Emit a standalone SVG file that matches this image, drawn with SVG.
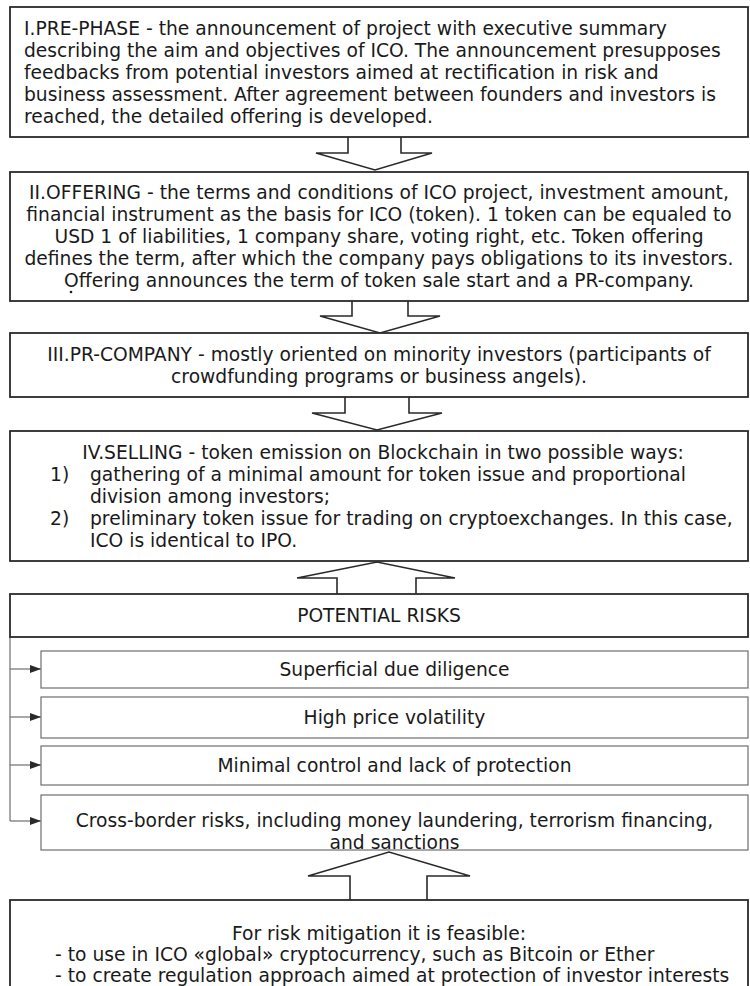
<svg xmlns="http://www.w3.org/2000/svg" width="750" height="986" viewBox="0 0 750 986">
<style>
  .box { fill: #fff; stroke: #2a2a2a; stroke-width: 1.8; }
  .sub { fill: #fff; stroke: #6e6e6e; stroke-width: 1.2; }
  .t { font-family: "DejaVu Sans", Verdana, sans-serif; font-size: 18.7px; fill: #1a1a1a; }
  .c { text-anchor: middle; }
  .blk { fill: #fff; stroke: #2a2a2a; stroke-width: 1.6; stroke-linejoin: miter; }
  .ln { fill: none; stroke: #6e6e6e; stroke-width: 1.2; }
</style>
<defs>
  <marker id="ah" viewBox="0 0 11 8" refX="11" refY="4" markerWidth="11" markerHeight="8" markerUnits="userSpaceOnUse" orient="auto">
    <path d="M0,0 L11,4 L0,8 Z" fill="#2a2a2a"/>
  </marker>
</defs>
<rect width="750" height="986" fill="#fff"/>

<g id="connectors">
  <path class="blk" d="M348,137 V153 H316 L375,170 L432,153 H401 V137"/>
  <path class="blk" d="M352,301 V316 H320 L380,333 L440,316 H408 V301"/>
  <path class="blk" d="M345,397 V413 H312 L377,430 L442,413 H409 V397"/>
  <path class="blk" d="M337,594 V578 H297 L377,562 L455,578 H416 V594"/>
  <path class="blk" d="M350,900 V876 H308 L389,852 L470,876 H427 V900"/>
  <path class="ln" d="M10,637 V821"/>
  <path class="ln" d="M10,669 H41" marker-end="url(#ah)"/>
  <path class="ln" d="M10,717 H41" marker-end="url(#ah)"/>
  <path class="ln" d="M10,765 H41" marker-end="url(#ah)"/>
  <path class="ln" d="M10,821 H41" marker-end="url(#ah)"/>
</g>

<g id="prephase">
  <rect class="box" x="10" y="7" width="738" height="130"/>
  <text class="t" x="24" y="35">I.PRE-PHASE - the announcement of project with executive summary</text>
  <text class="t" x="24" y="57">describing the aim and objectives of ICO. The announcement presupposes</text>
  <text class="t" x="24" y="79">feedbacks from potential investors aimed at rectification in risk and</text>
  <text class="t" x="24" y="101">business assessment. After agreement between founders and investors is</text>
  <text class="t" x="24" y="123">reached, the detailed offering is developed.</text>
</g>

<g id="offering">
  <rect class="box" x="10" y="172" width="738" height="129"/>
  <text class="t c" x="379" y="199">II.OFFERING - the terms and conditions of ICO project, investment amount,</text>
  <text class="t c" x="379" y="221">financial instrument as the basis for ICO (token). 1 token can be equaled to</text>
  <text class="t c" x="379" y="243">USD 1 of liabilities, 1 company share, voting right, etc. Token offering</text>
  <text class="t c" x="379" y="265">defines the term, after which the company pays obligations to its investors.</text>
  <text class="t c" x="379" y="287">Offering announces the term of token sale start and a PR-company.</text>
  <circle cx="71" cy="292" r="1.3" fill="#1a1a1a"/>
</g>

<g id="prcompany">
  <rect class="box" x="10" y="333" width="738" height="64"/>
  <text class="t c" x="379" y="361">III.PR-COMPANY - mostly oriented on minority investors (participants of</text>
  <text class="t c" x="379" y="383">crowdfunding programs or business angels).</text>
</g>

<g id="selling">
  <rect class="box" x="10" y="431" width="738" height="130"/>
  <text class="t c" x="383" y="459">IV.SELLING - token emission on Blockchain in two possible ways:</text>
  <text class="t" x="50" y="481">1)</text>
  <text class="t" x="90" y="481">gathering of a minimal amount for token issue and proportional</text>
  <text class="t" x="90" y="503">division among investors;</text>
  <text class="t" x="50" y="525">2)</text>
  <text class="t" x="90" y="525">preliminary token issue for trading on cryptoexchanges. In this case,</text>
  <text class="t" x="90" y="547">ICO is identical to IPO.</text>
</g>

<g id="risks">
  <rect class="box" x="10" y="594" width="738" height="43"/>
  <text class="t c" x="379" y="622">POTENTIAL RISKS</text>
</g>

<g id="risk1">
  <rect class="sub" x="41" y="651" width="707" height="37"/>
  <text class="t c" x="394.5" y="676">Superficial due diligence</text>
</g>
<g id="risk2">
  <rect class="sub" x="41" y="697" width="707" height="41"/>
  <text class="t c" x="394.5" y="724">High price volatility</text>
</g>
<g id="risk3">
  <rect class="sub" x="41" y="746" width="707" height="39"/>
  <text class="t c" x="394.5" y="772">Minimal control and lack of protection</text>
</g>
<g id="risk4">
  <rect class="sub" x="41" y="795" width="707" height="55"/>
  <text class="t c" x="394.5" y="827">Cross-border risks, including money laundering, terrorism financing,</text>
  <text class="t c" x="394.5" y="849">and sanctions</text>
</g>

<g id="mitigation">
  <rect class="box" x="10" y="900" width="738" height="100"/>
  <text class="t c" x="379" y="940">For risk mitigation it is feasible:</text>
  <text class="t" x="55" y="961">- to use in ICO «global» cryptocurrency, such as Bitcoin or Ether</text>
  <text class="t" x="55" y="982">- to create regulation approach aimed at protection of investor interests</text>
</g>
</svg>
